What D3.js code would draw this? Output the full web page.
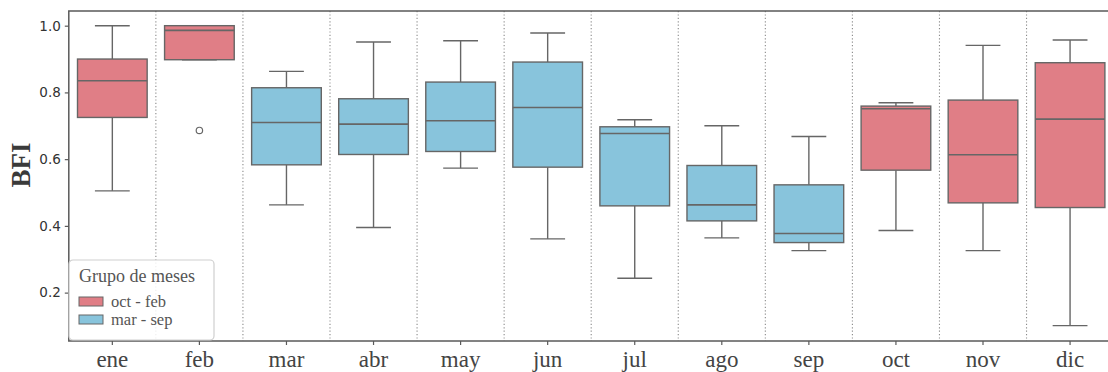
<!DOCTYPE html>
<html>
<head>
<meta charset="utf-8">
<script src="https://cdn.jsdelivr.net/npm/d3@7"></script>
<style>
  html, body { margin: 0; padding: 0; background: #ffffff; }
  svg { display: block; }
</style>
</head>
<body>
<svg id="chart" width="1108" height="372"></svg>
<script>
const months = ["ene","feb","mar","abr","may","jun","jul","ago","sep","oct","nov","dic"];
const groups = ["oct - feb","oct - feb","mar - sep","mar - sep","mar - sep","mar - sep","mar - sep","mar - sep","mar - sep","oct - feb","oct - feb","oct - feb"];
const whiskerLow  = [0.505, 0.898, 0.463, 0.395, 0.573, 0.361, 0.243, 0.364, 0.326, 0.386, 0.326, 0.101];
const q1          = [0.725, 0.898, 0.583, 0.614, 0.623, 0.576, 0.460, 0.415, 0.350, 0.567, 0.469, 0.455];
const medians     = [0.835, 0.986, 0.710, 0.705, 0.715, 0.755, 0.677, 0.463, 0.377, 0.751, 0.613, 0.720];
const q3          = [0.900, 1.000, 0.814, 0.781, 0.831, 0.891, 0.697, 0.581, 0.523, 0.759, 0.777, 0.889];
const whiskerHigh = [1.000, 1.000, 0.863, 0.951, 0.955, 0.978, 0.718, 0.700, 0.668, 0.769, 0.941, 0.957];
const outlierMonth = ["feb"];
const outlierValue = [0.686];
const yTicks = [0.2, 0.4, 0.6, 0.8, 1.0];
const legendGroups = ["oct - feb", "mar - sep"];
const legendTitle = "Grupo de meses";
const yLabel = "BFI";

const colors = { "oct - feb": "#e07e86", "mar - sep": "#88c4dc" };
const edge = "#666666";

const svg = d3.select("#chart");
const pLeft = 68.8, pRight = 1113.6, pTop = 11, pBottom = 341;

const x = d3.scaleBand().domain(months).range([pLeft, pRight]).padding(0);
const y = d3.scaleLinear().domain([0.055, 1.044]).range([pBottom, pTop]);

const data = months.map((m, i) => ({
  m, g: groups[i], lo: whiskerLow[i], q1: q1[i], med: medians[i], q3: q3[i], hi: whiskerHigh[i]
}));

// separators (dotted)
const seps = months.slice(1);
svg.append("g").selectAll("line").data(seps).join("line")
  .attr("x1", d => x(d)).attr("x2", d => x(d))
  .attr("y1", pTop).attr("y2", pBottom)
  .attr("stroke", "#8a8a8a").attr("stroke-width", 1.1)
  .attr("stroke-dasharray", "1.2,2.2");

const bw = x.bandwidth() * 0.8;
const cw = x.bandwidth() * 0.4;

const gBox = svg.append("g");
const boxes = gBox.selectAll("g").data(data).join("g")
  .attr("transform", d => `translate(${x(d.m) + x.bandwidth() / 2},0)`);

// whiskers
boxes.append("line").attr("x1", 0).attr("x2", 0)
  .attr("y1", d => y(d.q3)).attr("y2", d => y(d.hi))
  .attr("stroke", edge).attr("stroke-width", 1.4);
boxes.append("line").attr("x1", 0).attr("x2", 0)
  .attr("y1", d => y(d.q1)).attr("y2", d => y(d.lo))
  .attr("stroke", edge).attr("stroke-width", 1.4);
boxes.append("line").attr("x1", -cw / 2).attr("x2", cw / 2)
  .attr("y1", d => y(d.hi)).attr("y2", d => y(d.hi))
  .attr("stroke", edge).attr("stroke-width", 1.4);
boxes.append("line").attr("x1", -cw / 2).attr("x2", cw / 2)
  .attr("y1", d => y(d.lo)).attr("y2", d => y(d.lo))
  .attr("stroke", edge).attr("stroke-width", 1.4);
// box
boxes.append("rect")
  .attr("x", -bw / 2).attr("width", bw)
  .attr("y", d => y(d.q3)).attr("height", d => y(d.q1) - y(d.q3))
  .attr("fill", d => colors[d.g])
  .attr("stroke", edge).attr("stroke-width", 1.4);
// median
boxes.append("line").attr("x1", -bw / 2).attr("x2", bw / 2)
  .attr("y1", d => y(d.med)).attr("y2", d => y(d.med))
  .attr("stroke", edge).attr("stroke-width", 1.6);

// outliers
svg.append("g").selectAll("circle").data(outlierValue).join("circle")
  .attr("cx", (d, i) => x(outlierMonth[i]) + x.bandwidth() / 2)
  .attr("cy", d => y(d))
  .attr("r", 3.2)
  .attr("fill", "none").attr("stroke", edge).attr("stroke-width", 1.2);

// frame
svg.append("rect").attr("x", pLeft).attr("y", pTop)
  .attr("width", pRight - pLeft).attr("height", pBottom - pTop)
  .attr("fill", "none").attr("stroke", "#5a5a5a").attr("stroke-width", 1.5);

// y axis
const yAxis = svg.append("g").attr("transform", `translate(${pLeft},0)`)
  .call(d3.axisLeft(y).tickValues(yTicks).tickFormat(d3.format(".1f")).tickSize(4).tickPadding(4));
yAxis.select(".domain").remove();
yAxis.selectAll(".tick line").attr("stroke", "#5a5a5a").attr("stroke-width", 1.2);
yAxis.selectAll("text").attr("font-family", "DejaVu Sans, sans-serif")
  .attr("font-size", 13.5).attr("fill", "#333");

// x axis
const xAxis = svg.append("g").attr("transform", `translate(0,${pBottom})`)
  .call(d3.axisBottom(x).tickSize(4).tickPadding(6));
xAxis.select(".domain").remove();
xAxis.selectAll(".tick line").attr("stroke", "#5a5a5a").attr("stroke-width", 1.2);
xAxis.selectAll("text").attr("font-family", "Liberation Serif, Times New Roman, serif")
  .attr("font-size", 23).attr("fill", "#444");

// y label
svg.append("text")
  .attr("transform", `translate(30,${(pTop + pBottom) / 2 - 11}) rotate(-90)`)
  .attr("text-anchor", "middle")
  .attr("font-family", "Liberation Serif, Times New Roman, serif")
  .attr("font-weight", "bold").attr("font-size", 27).attr("fill", "#3a3a3a")
  .text(yLabel);

// legend
const lg = svg.append("g").attr("transform", "translate(69,260)");
lg.append("rect").attr("x", 0).attr("y", 0).attr("width", 145).attr("height", 80)
  .attr("rx", 4).attr("fill", "#fff").attr("fill-opacity", 0.85)
  .attr("stroke", "#cfcfcf").attr("stroke-width", 1.2);
lg.append("text").attr("x", 10).attr("y", 22)
  .attr("font-family", "Liberation Serif, Times New Roman, serif")
  .attr("font-size", 18).attr("fill", "#555").text(legendTitle);
const items = lg.selectAll("g.item").data(legendGroups).join("g").attr("class", "item")
  .attr("transform", (d, i) => `translate(10,${37 + i * 18})`);
items.append("rect").attr("x", 0).attr("y", 0).attr("width", 24).attr("height", 9)
  .attr("fill", d => colors[d]).attr("stroke", edge).attr("stroke-width", 1);
items.append("text").attr("x", 32).attr("y", 10)
  .attr("font-family", "Liberation Serif, Times New Roman, serif")
  .attr("font-size", 16.5).attr("fill", "#555").text(d => d);
</script>
</body>
</html>
